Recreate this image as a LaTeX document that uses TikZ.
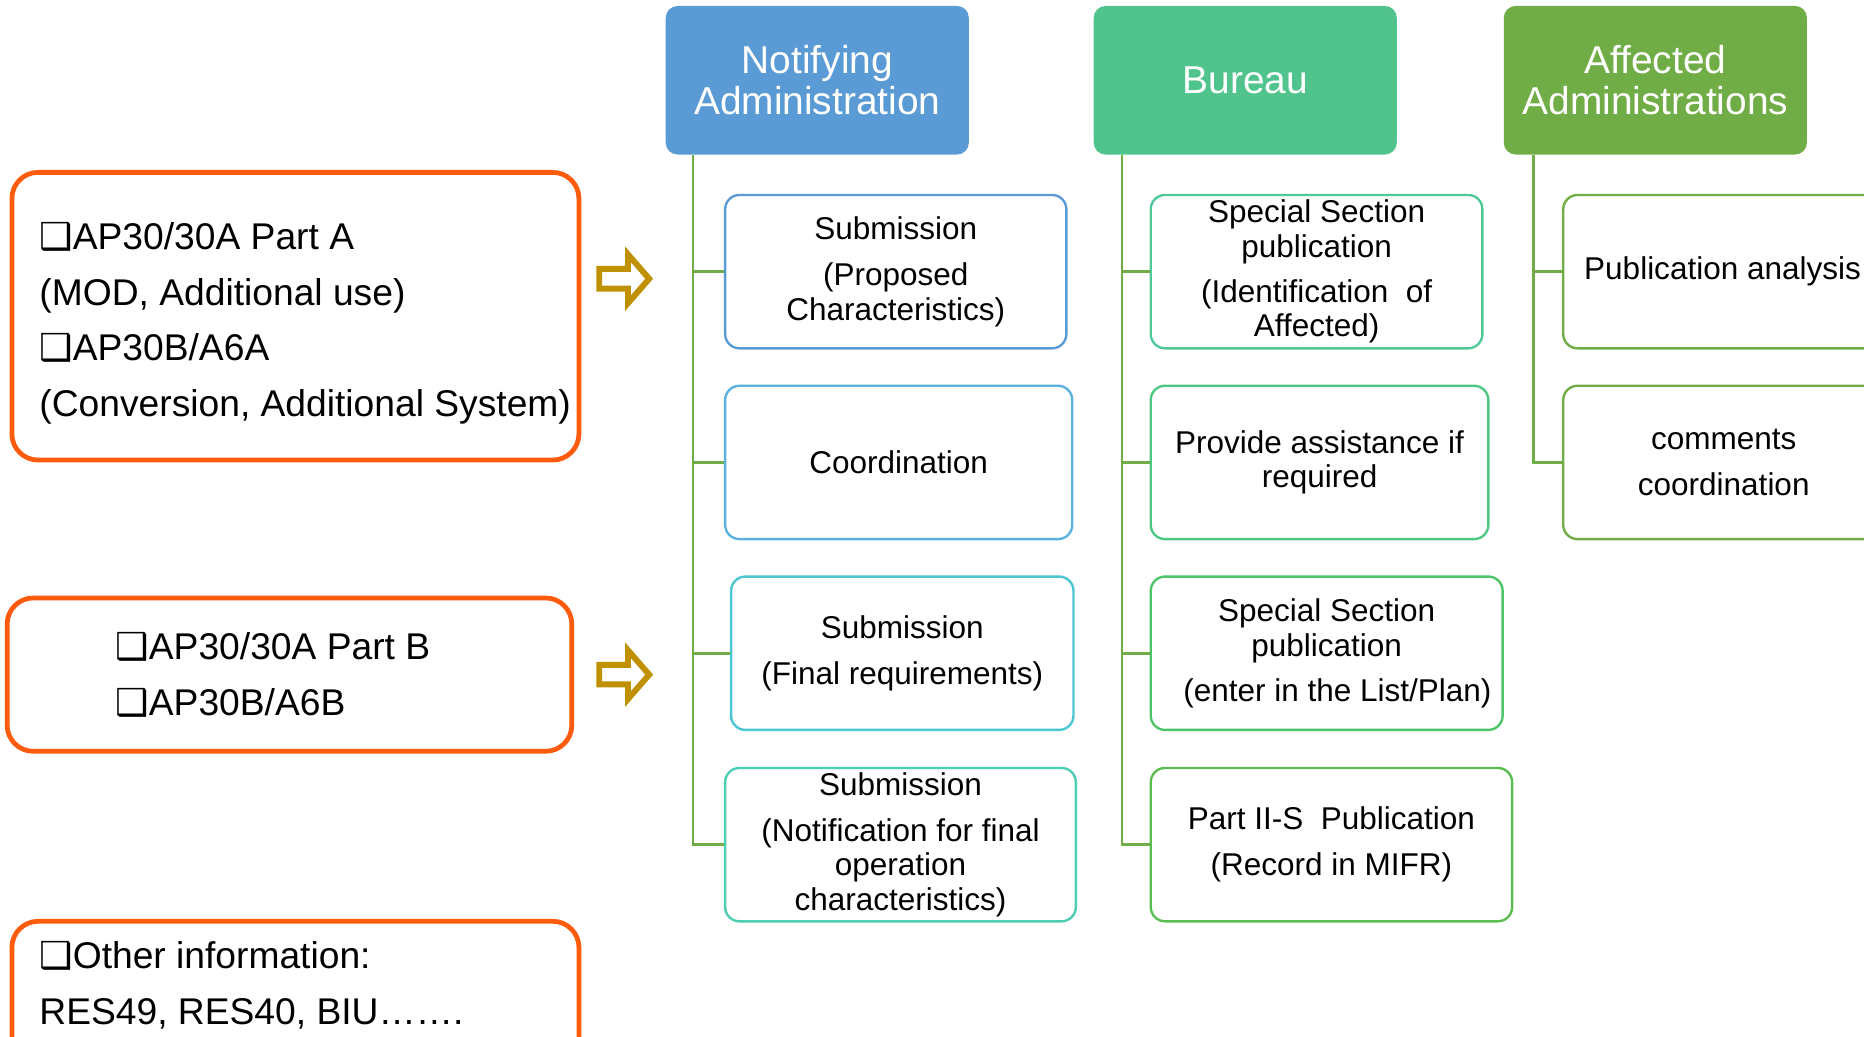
\documentclass[tikz,border=0pt]{standalone}
\usepackage{fontspec}
\setmainfont{Liberation Sans}
\newfontfamily\dejavu{DejaVu Sans}
\usetikzlibrary{shapes.arrows}
\definecolor{nablue}{HTML}{5B9BD5}
\definecolor{bugreen}{HTML}{50C48C}
\definecolor{afgreen}{HTML}{70AD47}
\definecolor{cA}{HTML}{5B9BD5}
\definecolor{cB}{HTML}{5AB2DE}
\definecolor{cC}{HTML}{4CC6D2}
\definecolor{cD}{HTML}{4DCDB2}
\definecolor{cE}{HTML}{50C898}
\definecolor{cF}{HTML}{4FC784}
\definecolor{cG}{HTML}{4EC468}
\definecolor{cH}{HTML}{5ABD50}
\definecolor{orangeC}{HTML}{FF5B0D}
\definecolor{goldC}{HTML}{BF9000}
\begin{document}
\begin{tikzpicture}[x=1pt,y=-1pt,
  hdr/.style={rounded corners=10pt, minimum width=255pt, minimum height=125pt, text=white,
    font=\fontsize{32.7}{35}\selectfont, align=center, inner sep=0pt},
  item/.style={draw=#1, rounded corners=12pt, line width=2pt, fill=white, align=center,
    font=\fontsize{26.5}{29}\selectfont, inner sep=0pt, minimum height=129pt},
  link/.style={draw=afgreen, line width=2.2pt},
  obox/.style={draw=orangeC, line width=4pt, rounded corners=22pt, inner sep=0pt},
  otext/.style={anchor=west, align=left, inner sep=0pt, font=\fontsize{31.3}{47}\selectfont},
  garrow/.style={single arrow, draw=goldC, line width=5pt, inner xsep=0pt, inner ysep=5.75pt,
    single arrow head extend=12.25pt, single arrow tip angle=98, minimum height=42pt}
]
\useasboundingbox (0,0) rectangle (1568,872);
\newcommand{\bx}{{\dejavu ❑}}
% headers
\node[hdr, fill=nablue] (NA) at (687.5,67.5) {Notifying\\Administration};
\node[hdr, fill=bugreen] (BU) at (1047.5,67.5) {Bureau};
\node[hdr, fill=afgreen] (AF) at (1392.5,67.5) {Affected\\Administrations};
% column 1
\node[item=cA, minimum width=287pt] (s1) at (753.5,228.5) {Submission\\[10pt](Proposed\\Characteristics)};
\node[item=cB, minimum width=292pt] (co) at (756,389) {Coordination};
\node[item=cC, minimum width=288pt] (s2) at (759,549.5) {Submission\\[10pt](Final requirements)};
\node[item=cD, minimum width=295pt] (s3) at (757.5,710.5) {Submission\\[10pt](Notification for final\\operation\\characteristics)};
% column 2
\node[item=cE, minimum width=279pt] (b1) at (1107.5,228.5) {Special Section\\publication\\[9pt](Identification~ of\\Affected)};
\node[item=cF, minimum width=284pt] (b2) at (1110,389) {Provide assistance if\\required};
\node[item=cG, minimum width=296pt] (b3) at (1116,549.5) {Special Section\\publication\\[9pt]\hspace*{18pt}(enter in the List/Plan)};
\node[item=cH, minimum width=304pt] (b4) at (1120,710.5) {Part II-S~ Publication\\[10pt](Record in MIFR)};
% column 3
\node[item=afgreen, minimum width=268pt] (a1) at (1449,228.5) {Publication analysis};
\node[item=afgreen, minimum width=270pt] (a2) at (1450,389) {comments\\[9pt]coordination};
% connectors
\foreach \c in {s1,co,s2,s3} \draw[link] ([xshift=23pt]NA.south west) |- (\c.west);
\foreach \c in {b1,b2,b3,b4} \draw[link] ([xshift=24pt]BU.south west) |- (\c.west);
\foreach \c in {a1,a2} \draw[link] ([xshift=25pt]AF.south west) |- (\c.west);
% left boxes
\node[obox, minimum width=477pt, minimum height=242pt] (LA) at (248.5,266) {};
\node[otext] (LAt) at (33,272) {\bx AP30/30A Part A\\(MOD, Additional use)\\\bx AP30B/A6A\\(Conversion, Additional System)};
\node[obox, minimum width=475pt, minimum height=129pt] (LB) at (243.5,567.5) {};
\node[otext] (LBt) at (97,567.5) {\bx AP30/30A Part B\\\bx AP30B/A6B};
\node[obox, minimum width=477pt, minimum height=130pt] (LC) at (248.5,840) {};
\node[otext] (LCt) at (33,828.5) {\bx Other information:\\RES49, RES40, BIU…….};
% arrows
\node[garrow] (ar1) at (521.5,234.5) {};
\node[garrow] (ar2) at (521.5,567.5) {};
\end{tikzpicture}
\end{document}
